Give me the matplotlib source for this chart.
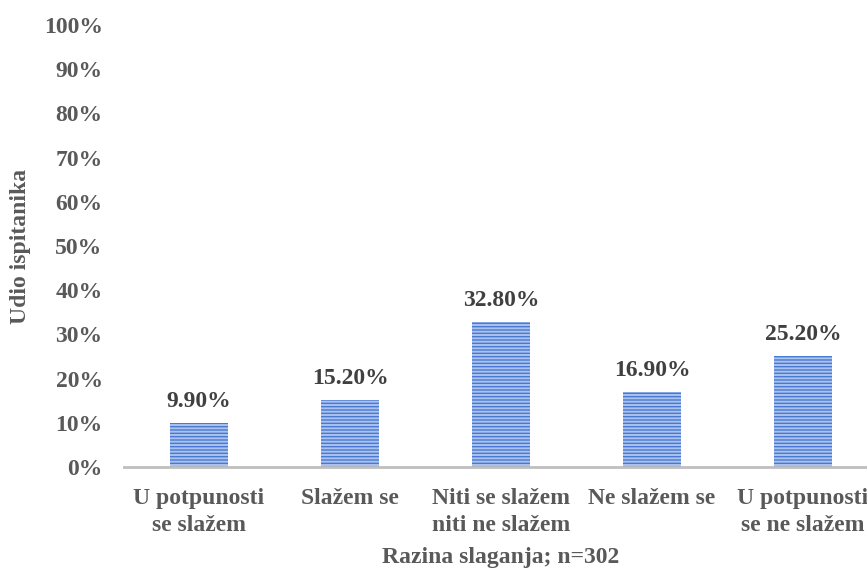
import matplotlib.pyplot as plt
import numpy as np

categories = ["U potpunosti\nse slažem", "Slažem se", "Niti se slažem\nniti ne slažem",
              "Ne slažem se", "U potpunosti\nse ne slažem"]
values = [9.9, 15.2, 32.8, 16.9, 25.2]
yticks = [0, 10, 20, 30, 40, 50, 60, 70, 80, 90, 100]

plt.rcParams['font.family'] = ['Liberation Serif', 'DejaVu Serif']
plt.rcParams['font.weight'] = 'bold'
plt.rcParams['hatch.linewidth'] = 1.4
plt.rcParams['hatch.color'] = '#aac2ee'

fig = plt.figure(figsize=(8.67, 5.69), dpi=100)
ax = fig.add_axes([123.5/867, 1-467/569, 755/867, 442/569])

x = np.arange(len(categories))
bars = ax.bar(x, values, width=0.38, color='#4a79d2', hatch='-----',
              edgecolor='#aac2ee', linewidth=0)

for xi, v in zip(x, values):
    ax.annotate(f"{v:.2f}%", (xi, v), xytext=(0, 8), textcoords='offset points',
                ha='center', va='bottom', fontsize=17, fontweight='bold', color='#404040')

ax.set_xlim(-0.5, len(categories) - 0.5)
ax.set_ylim(0, 100)
ax.set_yticks(yticks)
ax.set_yticklabels([f"{t}%" for t in yticks])
ax.set_xticks(x)
ax.set_xticklabels(categories, linespacing=1.4)
ax.tick_params(axis='both', length=0, labelsize=17, labelcolor='#595959')
ax.tick_params(axis='y', pad=15)
ax.tick_params(axis='x', pad=15)
for lab in ax.get_xticklabels() + ax.get_yticklabels():
    lab.set_fontweight('bold')

for s in ['top', 'right', 'left']:
    ax.spines[s].set_visible(False)
ax.spines['bottom'].set_color('#bfbfbf')
ax.spines['bottom'].set_linewidth(2)

ax.set_ylabel("Udio ispitanika", fontsize=17, fontweight='bold', color='#595959', labelpad=9)
ax.set_xlabel("Razina slaganja; n=302", fontsize=17, fontweight='bold', color='#595959', labelpad=8)

fig.savefig("out.png", dpi=100)
